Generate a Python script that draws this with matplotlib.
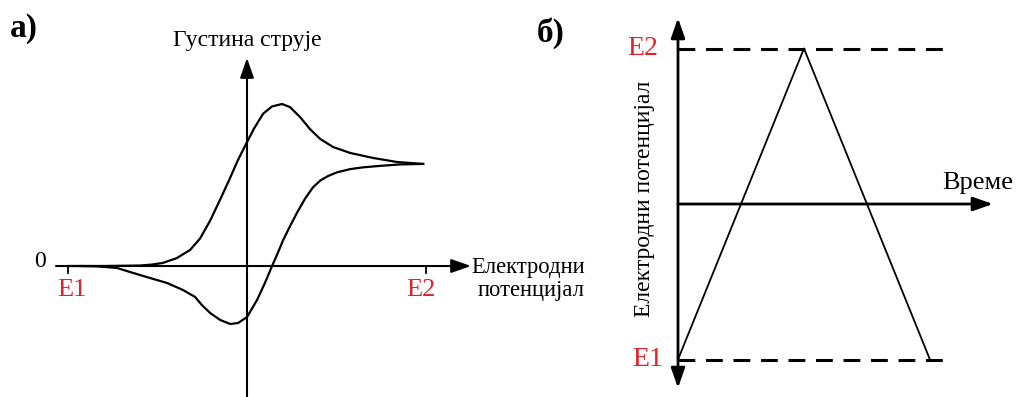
import numpy as np
import matplotlib
matplotlib.use("Agg")
import matplotlib.pyplot as plt

plt.rcParams['font.family'] = ['Liberation Serif', 'DejaVu Serif']

RED = '#e3202a'

# а) циклични волтамограм: потенцијал E (E1=0, E2=1), густина струје j (пик = 1)
fwd_E = [0.0, 0.10, 0.201, 0.235, 0.265, 0.304, 0.341, 0.369, 0.397, 0.425,
         0.453, 0.475, 0.5, 0.52, 0.545, 0.570, 0.598, 0.620, 0.648, 0.676,
         0.704, 0.740, 0.788, 0.852, 0.919, 0.992]
fwd_j = [0.0, 0.0, 0.003, 0.009, 0.019, 0.049, 0.099, 0.170, 0.280, 0.410,
         0.545, 0.655, 0.765, 0.850, 0.940, 0.985, 1.0, 0.981, 0.920, 0.845,
         0.785, 0.735, 0.698, 0.667, 0.642, 0.630]
rev_E = [0.992, 0.927, 0.872, 0.824, 0.788, 0.751, 0.726, 0.705, 0.684, 0.662,
         0.640, 0.620, 0.601, 0.585, 0.570, 0.550, 0.528, 0.5, 0.475, 0.453,
         0.425, 0.397, 0.374, 0.355, 0.321, 0.277, 0.229, 0.173, 0.137, 0.08,
         0.034]
rev_j = [0.630, 0.627, 0.618, 0.609, 0.598, 0.578, 0.555, 0.528, 0.485, 0.415,
         0.330, 0.245, 0.160, 0.075, 0.0, -0.105, -0.210, -0.315, -0.352, -0.358,
         -0.333, -0.290, -0.241, -0.191, -0.148, -0.105, -0.074, -0.037, -0.012, -0.002,
         0.0]

# б) троугаони потенцијал у времену
t_sweep = [0.0, 1.0, 2.0]
E_sweep = [-1.0, 1.0, -1.0]
E_limits = [-1.0, 1.0]
t_dash_end = 2.14

fig = plt.figure(figsize=(10.16, 3.97), dpi=100)

# ---------- панел а ----------
ax = fig.add_axes([40 / 1016, 0, 560 / 1016, 1])
ax.set_xlim(-0.0782, 1.486)
ax.set_ylim(-0.8086, 1.642)
ax.axis('off')

arrow = dict(arrowstyle='-|>,head_length=0.8,head_width=0.28',
             mutation_scale=15, lw=1.5, color='black', shrinkA=0, shrinkB=0)
ax.annotate('', xy=(1.1257, 0), xytext=(-0.0335, 0), arrowprops=arrow)
ax.annotate('', xy=(0.5, 1.284), xytext=(0.5, -0.81), arrowprops=arrow)
for e in (0.0, 1.0):
    ax.plot([e, e], [0, -0.045], color='black', lw=1.3)

ax.plot(fwd_E, fwd_j, color='black', lw=1.6, solid_joinstyle='round')
ax.plot(rev_E, rev_j, color='black', lw=1.6, solid_joinstyle='round')

ax.text(0.5, 1.395, 'Густина струје', ha='center', va='center', fontsize=17)
ax.text(-0.062, 0.03, '0', ha='right', va='center', fontsize=17)
ax.text(0.01, -0.15, 'E1', ha='center', va='center', fontsize=19, color=RED)
ax.text(0.985, -0.15, 'E2', ha='center', va='center', fontsize=19, color=RED)
ax.text(1.444, -0.08, 'Електродни\nпотенцијал', ha='right', va='center',
        multialignment='right', fontsize=16.3, linespacing=1.12)

# ---------- панел б ----------
bx = fig.add_axes([600 / 1016, 0, 416 / 1016, 1])
bx.set_xlim(-0.619, 2.683)
bx.set_ylim(-1.241, 1.312)
bx.axis('off')

arrow_b = dict(arrowstyle='<|-|>,head_length=0.8,head_width=0.28',
               mutation_scale=15, lw=2, color='black', shrinkA=0, shrinkB=0)
bx.annotate('', xy=(0, 1.196), xytext=(0, -1.183), arrowprops=arrow_b)
arrow_t = dict(arrow, lw=2)
bx.annotate('', xy=(2.5, 0), xytext=(0, 0), arrowprops=arrow_t)

for e in E_limits:
    bx.plot([0, t_dash_end], [e, e], color='black', lw=2.2, ls=(0, (5.5, 3.5)))
bx.plot(t_sweep, E_sweep, color='black', lw=1.3)

bx.text(-0.16, 1.0, 'E2', ha='right', va='center', fontsize=20, color=RED)
bx.text(-0.12, -1.0, 'E1', ha='right', va='center', fontsize=20, color=RED)
bx.text(2.1, 0.135, 'Време', ha='left', va='center', fontsize=19)
bx.text(-0.265, 0.032, 'Електродни потенцијал', ha='center', va='center',
        rotation=90, fontsize=17)

fig.text(10 / 1016, 1 - 29 / 397, 'а)', ha='left', va='center',
         fontsize=24, fontweight='bold')
fig.text(537 / 1016, 1 - 33 / 397, 'б)', ha='left', va='center',
         fontsize=24, fontweight='bold')

fig.savefig('out.png', dpi=100, facecolor='white')
